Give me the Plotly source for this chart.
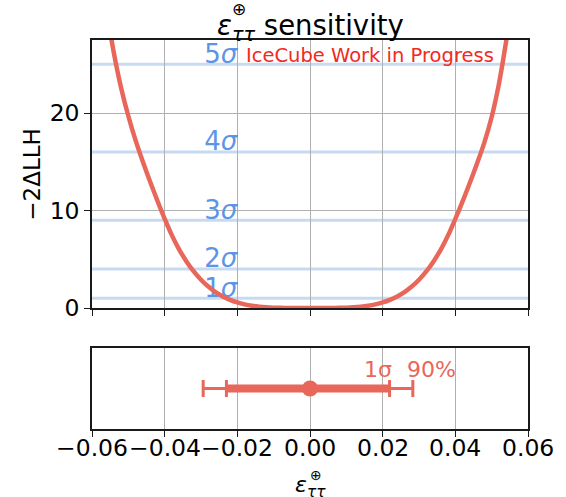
import plotly.graph_objects as go

# --- profile likelihood scan (-2ΔLLH vs. ε_ττ) ---
eps = [-0.056, -0.054, -0.052, -0.050, -0.048, -0.046, -0.044, -0.042, -0.040,
       -0.038, -0.036, -0.034, -0.032, -0.030, -0.028, -0.026, -0.024, -0.022,
       -0.020, -0.018, -0.016, -0.014, -0.012, -0.010, -0.008, -0.006, -0.004,
       -0.002, 0.000, 0.002, 0.004, 0.006, 0.008, 0.010, 0.012, 0.014, 0.016,
       0.018, 0.020, 0.022, 0.024, 0.026, 0.028, 0.030, 0.032, 0.034, 0.036,
       0.038, 0.040, 0.042, 0.044, 0.046, 0.048, 0.050, 0.052, 0.054, 0.056]
llh = [30.6, 26.2, 22.6, 19.7, 17.2, 15.0, 12.95, 11.0, 9.15,
       7.45, 6.0, 4.78, 3.75, 2.9, 2.2, 1.63, 1.19, 0.84,
       0.57, 0.375, 0.234, 0.137, 0.074, 0.036, 0.015, 0.005, 0.001,
       0.0, 0.0, 0.0, 0.001, 0.005, 0.015, 0.036, 0.074, 0.137, 0.234,
       0.375, 0.57, 0.84, 1.19, 1.63, 2.2, 2.9, 3.75, 4.78, 6.0,
       7.45, 9.15, 10.95, 12.85, 14.85, 17.0, 19.6, 23.0, 27.4, 32.5]

# significance levels (-2ΔLLH = n^2)
sigma_levels = [1, 4, 9, 16, 25]
sigma_labels = ["1<i>σ</i>", "2<i>σ</i>", "3<i>σ</i>", "4<i>σ</i>", "5<i>σ</i>"]

# best fit and intervals
best_fit = 0.0
sig1_lo, sig1_hi = -0.0230, 0.0219
p90_lo, p90_hi = -0.0294, 0.0283

x_ticks = [-0.06, -0.04, -0.02, 0.0, 0.02, 0.04, 0.06]
x_ticktext = ["−0.06", "−0.04", "−0.02", "0.00", "0.02", "0.04", "0.06"]
y_ticks = [0, 10, 20]

CURVE = "#E8675A"
BAND = "#c6dbf2"
SIGTXT = "#5d95e6"
FONT = "DejaVu Sans"

W, H = 566, 497
ML, MR, MT, MB = 92, 38, 40, 68
PW, PH = W - ML - MR, H - MT - MB


def px(xp):
    return (xp - ML) / PW


def py(yp):
    return (H - MB - yp) / PH


fig = go.Figure()

# sigma labels, sitting on their lines (drawn beneath the curve)
fig.add_trace(go.Scatter(
    x=[-0.02] * len(sigma_levels), y=[lv - 0.5 for lv in sigma_levels],
    mode="text", text=sigma_labels, textposition="top left",
    textfont=dict(family=FONT, size=26, color=SIGTXT),
    cliponaxis=False, showlegend=False, hoverinfo="skip",
    xaxis="x", yaxis="y"))

# scan curve
fig.add_trace(go.Scatter(
    x=eps, y=llh, mode="lines", line=dict(color=CURVE, width=4.5, shape="spline"),
    showlegend=False, xaxis="x", yaxis="y"))

# 90% interval
fig.add_trace(go.Scatter(
    x=[best_fit], y=[0], mode="markers", marker=dict(size=1, color=CURVE, opacity=0),
    error_x=dict(type="data", symmetric=False,
                 array=[p90_hi - best_fit], arrayminus=[best_fit - p90_lo],
                 color=CURVE, thickness=3, width=8.5),
    showlegend=False, xaxis="x2", yaxis="y2"))
# 1 sigma interval
fig.add_trace(go.Scatter(
    x=[sig1_lo, sig1_hi], y=[0, 0], mode="lines",
    line=dict(color=CURVE, width=8), showlegend=False, xaxis="x2", yaxis="y2"))
fig.add_trace(go.Scatter(
    x=[best_fit], y=[0], mode="markers", marker=dict(size=16, color=CURVE),
    error_x=dict(type="data", symmetric=False,
                 array=[sig1_hi - best_fit], arrayminus=[best_fit - sig1_lo],
                 color=CURVE, thickness=3, width=8.5),
    showlegend=False, xaxis="x2", yaxis="y2"))

shapes = [dict(type="line", xref="x domain", yref="y", x0=0, x1=1, y0=lv, y1=lv,
               line=dict(color=BAND, width=3), layer="below")
          for lv in sigma_levels]

axis_common = dict(showline=True, mirror=True, linecolor="#1a1a1a", linewidth=1.5,
                   ticks="outside", ticklen=6, tickwidth=1.3, tickcolor="#1a1a1a",
                   showgrid=True, gridcolor="#b0b0b0", gridwidth=1.3, zeroline=False,
                   tickangle=0,
                   tickfont=dict(family=FONT, size=23.5, color="black"))

annotations = [
    dict(text="<i>ε</i><sub><i>ττ</i></sub> sensitivity", x=0.5, y=py(27),
         xref="paper", yref="paper", xanchor="center", yanchor="middle",
         showarrow=False, font=dict(family=FONT, size=27.5, color="black")),
    dict(text="⊕", x=px(239), y=py(9.5), xref="paper", yref="paper",
         xanchor="center", yanchor="middle", showarrow=False,
         font=dict(family=FONT, size=17, color="black")),
    dict(text="<i>ε</i><sub><i>ττ</i></sub>", x=px(310), y=py(487),
         xref="paper", yref="paper", xanchor="center", yanchor="middle",
         showarrow=False, font=dict(family=FONT, size=22, color="black")),
    dict(text="⊕", x=px(315.5), y=py(475), xref="paper", yref="paper",
         xanchor="center", yanchor="middle", showarrow=False,
         font=dict(family=FONT, size=14, color="black")),
    dict(text="−2ΔLLH", x=px(31.7), y=py(174), xref="paper", yref="paper",
         xanchor="center", yanchor="middle", textangle=-90, showarrow=False,
         font=dict(family=FONT, size=23, color="black")),
    dict(text="IceCube Work in Progress", x=px(244), y=py(55), xref="paper",
         yref="paper", xanchor="left", yanchor="middle", showarrow=False,
         font=dict(family=FONT, size=19.5, color="#f22a1e")),
    dict(text="1σ", x=0.023, y=py(369), xref="x2", yref="paper",
         xanchor="right", yanchor="middle", showarrow=False,
         font=dict(family=FONT, size=22, color=CURVE)),
    dict(text="90%", x=0.0262, y=py(369), xref="x2", yref="paper",
         xanchor="left", yanchor="middle", showarrow=False,
         font=dict(family=FONT, size=22, color=CURVE)),
]

# x tick labels of the lower panel
for tv, tt in zip(x_ticks, x_ticktext):
    annotations.append(dict(
        text=tt, x=tv, y=py(448), xref="x2", yref="paper",
        xanchor="center", yanchor="middle", showarrow=False,
        font=dict(family=FONT, size=23.5, color="black")))

top_lo = py(308)
bot_hi = py(348)

fig.update_layout(
    width=W, height=H, margin=dict(l=ML, r=MR, t=MT, b=MB, autoexpand=False),
    paper_bgcolor="white", plot_bgcolor="white",
    xaxis=dict(axis_common, domain=[0, 1], anchor="y", range=[-0.06, 0.06],
               tickvals=x_ticks, showticklabels=False, matches="x2"),
    yaxis=dict(axis_common, domain=[top_lo, 1], anchor="x", range=[0, 27.5],
               tickvals=y_ticks),
    xaxis2=dict(axis_common, domain=[0, 1], anchor="y2", range=[-0.06, 0.06],
                tickvals=x_ticks, showticklabels=False),
    yaxis2=dict(axis_common, domain=[0, bot_hi], anchor="x2", range=[-1, 1],
                showgrid=False, ticks="", showticklabels=False),
    shapes=shapes, annotations=annotations, showlegend=False,
)

fig.write_html("out.html")
